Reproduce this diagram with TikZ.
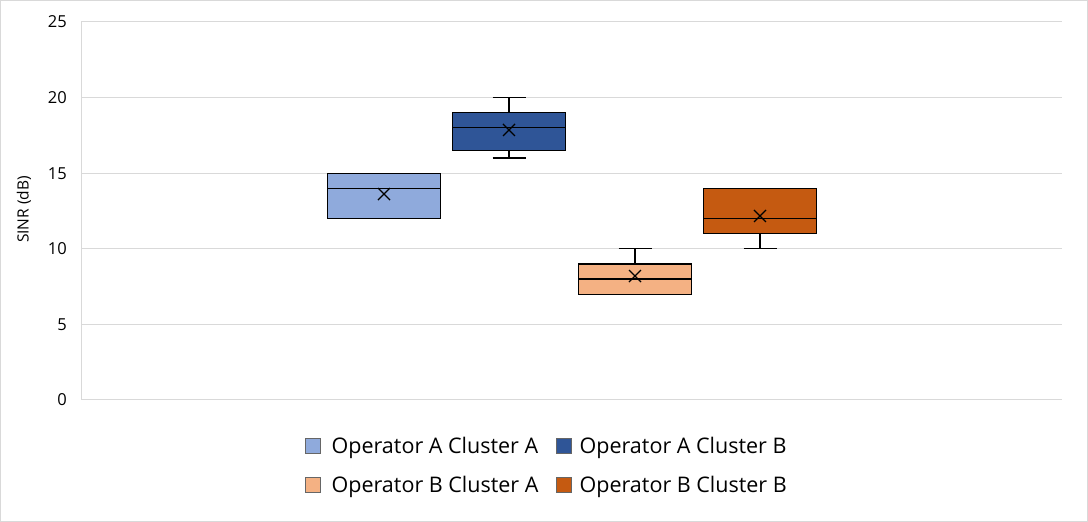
\documentclass[tikz,border=0pt]{standalone}
\usepackage{fontspec}
\setmainfont{Open Sans}
\usetikzlibrary{positioning}
\definecolor{opaca}{HTML}{8FAADC}
\definecolor{opacb}{HTML}{2F5597}
\definecolor{opbca}{HTML}{F4B183}
\definecolor{opbcb}{HTML}{C55A11}
\definecolor{gridgray}{HTML}{D9D9D9}
\begin{document}
\begin{tikzpicture}[x=1pt,y=1pt,
    gridline/.style={draw=gridgray,line width=1pt},
    boxplot/.style={draw=black,line width=1.3pt},
    tick/.style={anchor=east,inner sep=0pt,font=\fontsize{16.5}{17}\selectfont},
    legsq/.style={draw=gray!80!black,line width=0.9pt,minimum size=15pt,inner sep=0pt},
    legtxt/.style={anchor=west,inner sep=0pt,font=\fontsize{21.5}{22}\selectfont}]
  \useasboundingbox (0,0) rectangle (1088,522);
  \draw[gridgray] (0.5,0.5) rectangle (1087.5,521.5);
  % plot area, one unit of y is one dB
  \begin{scope}[shift={(0,122)},y=15.12pt]
    \foreach \v in {0,5,...,25} {
      \draw[gridline] (81,\v) -- (1062,\v);
      \node[tick] (tick\v) at (67,\v) {\v};
    }
    \draw[gridline] (81,0) -- (81,25);
    \node[rotate=90,font=\fontsize{15.5}{16}\selectfont] (ylabel) at (24,12.6) {SINR (dB)};
    % center/colour/min/q1/median/q3/max/mean
    \foreach \cx/\col/\lo/\qa/\md/\qb/\hi/\mn in {384/opaca/12/12/14/15/15/13.62,
        509/opacb/16/16.5/18/19/20/17.86,
        635/opbca/7/7/8/9/10/8.2,
        760/opbcb/10/11/12/14/14/12.17} {
      \draw[boxplot] (\cx,\lo) -- (\cx,\qa) (\cx,\qb) -- (\cx,\hi);
      \draw[boxplot] (\cx-16.5,\lo) -- (\cx+16.5,\lo) (\cx-16.5,\hi) -- (\cx+16.5,\hi);
      \draw[boxplot,fill=\col] (\cx-56.5,\qa) rectangle (\cx+56.5,\qb);
      \draw[boxplot] (\cx-56.5,\md) -- (\cx+56.5,\md);
      \draw[boxplot] (\cx,\mn) ++(-6pt,-6pt) -- ++(12pt,12pt) ++(-12pt,0) -- ++(12pt,-12pt);
    }
  \end{scope}
  % legend
  \node[legsq,fill=opaca] (legaa) at (313,76) {};
  \node[legtxt,right=10.5pt of legaa,yshift=-2pt] (txtaa) {Operator A Cluster A};
  \node[legsq,fill=opacb] (legab) at (564,76) {};
  \node[legtxt,right=7.5pt of legab,yshift=-2pt] (txtab) {Operator A Cluster B};
  \node[legsq,fill=opbca] (legba) at (313,37) {};
  \node[legtxt,right=10.5pt of legba,yshift=-2pt] (txtba) {Operator B Cluster A};
  \node[legsq,fill=opbcb] (legbb) at (564,37) {};
  \node[legtxt,right=7.5pt of legbb,yshift=-2pt] (txtbb) {Operator B Cluster B};
\end{tikzpicture}
\end{document}
